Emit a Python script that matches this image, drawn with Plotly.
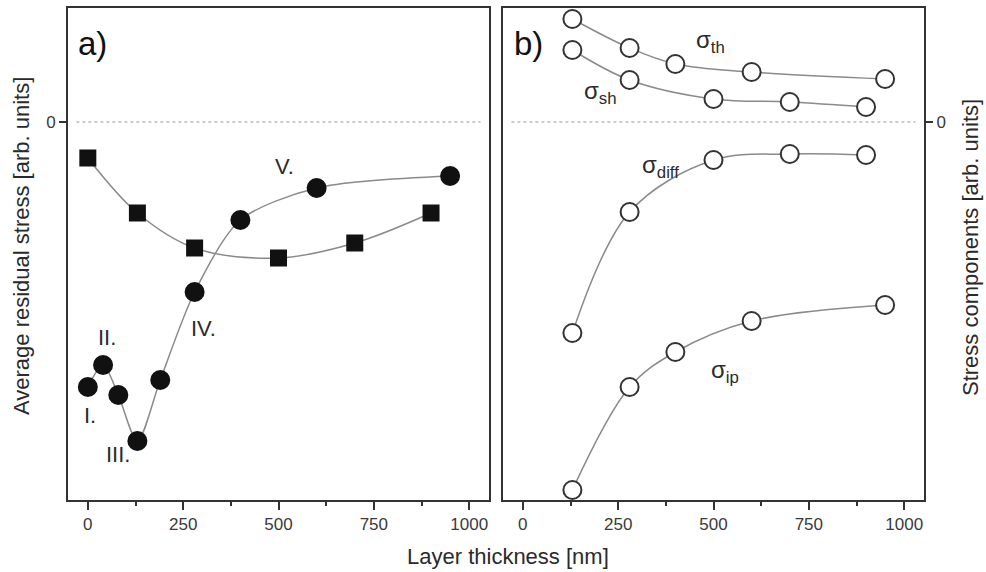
import plotly.graph_objects as go

# ---- data (arbitrary units) ----
sq_x = [0, 130, 280, 500, 700, 900]
sq_y = [-0.36, -0.91, -1.26, -1.36, -1.21, -0.91]

ci_x = [0, 40, 80, 130, 190, 280, 400, 600, 950]
ci_y = [-2.65, -2.43, -2.73, -3.19, -2.58, -1.70, -0.98, -0.66, -0.54]

th_x = [130, 280, 400, 600, 950]
th_y = [1.03, 0.74, 0.58, 0.50, 0.43]

sh_x = [130, 280, 500, 700, 900]
sh_y = [0.72, 0.42, 0.23, 0.20, 0.15]

diff_x = [130, 280, 500, 700, 900]
diff_y = [-2.11, -0.90, -0.38, -0.32, -0.33]

ip_x = [130, 280, 400, 600, 950]
ip_y = [-3.68, -2.65, -2.30, -1.99, -1.83]

x_ticks = [0, 250, 500, 750, 1000]
y_ticks = [0]

FONT = "Liberation Sans, Arial, Helvetica, sans-serif"
DARK = "#333333"
TXT = "#2a2a2a"
LINE = "#8a8a8a"

fig = go.Figure()

def curve(x, y, xa, ya, smooth=1.0):
    fig.add_trace(go.Scatter(x=x, y=y, mode="lines", xaxis=xa, yaxis=ya,
                             line=dict(color=LINE, width=1.5, shape="spline", smoothing=smooth),
                             hoverinfo="skip", showlegend=False))

def pts(x, y, xa, ya, symbol, size, fill, lw):
    fig.add_trace(go.Scatter(x=x, y=y, mode="markers", xaxis=xa, yaxis=ya,
                             marker=dict(symbol=symbol, size=size, color=fill,
                                         line=dict(color=DARK if lw else fill, width=lw)),
                             cliponaxis=False, showlegend=False))

# panel a
curve(sq_x, sq_y, "x", "y")
curve(ci_x, ci_y, "x", "y", 0.8)
pts(sq_x, sq_y, "x", "y", "square", 17, "#111111", 0)
pts(ci_x, ci_y, "x", "y", "circle", 20, "#111111", 0)

# panel b
for xs, ys in [(th_x, th_y), (sh_x, sh_y), (diff_x, diff_y), (ip_x, ip_y)]:
    curve(xs, ys, "x2", "y2")
for xs, ys in [(th_x, th_y), (sh_x, sh_y), (diff_x, diff_y), (ip_x, ip_y)]:
    pts(xs, ys, "x2", "y2", "circle", 18, "white", 2)

xcommon = dict(range=[-52, 1052], tickvals=x_ticks, ticks="outside", ticklen=8, tickwidth=2,
               tickcolor=DARK, showline=True, linewidth=2, linecolor=DARK, mirror=True,
               showgrid=False, zeroline=False,
               tickfont=dict(family=FONT, size=17, color="#3a3a3a"),
               minor=dict(ticks="outside", ticklen=4, tickwidth=2, tickcolor=DARK, dtick=125, tick0=125,
                          showgrid=False))
ycommon = dict(range=[-3.78, 1.14], tickvals=y_ticks, ticktext=["0"], ticks="outside", ticklen=7,
               tickwidth=2, tickcolor=DARK, showline=True, linewidth=2, linecolor=DARK, mirror=True,
               showgrid=False, zeroline=False,
               tickfont=dict(family=FONT, size=17, color="#3a3a3a"))

y0 = 1 - 500 / 572
y1 = 1 - 8 / 572
fig.update_layout(
    width=986, height=572, margin=dict(l=0, r=0, t=0, b=0),
    paper_bgcolor="white", plot_bgcolor="white",
    xaxis=dict(domain=[68 / 986, 489 / 986], anchor="y", **xcommon),
    xaxis2=dict(domain=[503 / 986, 924 / 986], anchor="y2", **xcommon),
    yaxis=dict(domain=[y0, y1], anchor="x", side="left", **ycommon),
    yaxis2=dict(domain=[y0, y1], anchor="x2", side="right", **ycommon),
    font=dict(family=FONT, color=TXT),
)

# zero dotted lines
for xr, yr in [("x domain", "y"), ("x2 domain", "y2")]:
    fig.add_shape(type="line", xref=xr, yref=yr, x0=0.02, x1=0.98, y0=0, y1=0,
                  line=dict(color="#bbbbbb", width=1.5, dash="dot"), layer="below")

def ann(text, x, y, xref, yref, size, angle=0, color=TXT):
    fig.add_annotation(text=text, x=x, y=y, xref=xref, yref=yref, showarrow=False,
                       textangle=angle, font=dict(family=FONT, size=size, color=color),
                       xanchor="center", yanchor="middle")

# panel labels
ann("a)", 92 / 986, 1 - 43 / 572, "paper", "paper", 33, color="#111111")
ann("b)", 528 / 986, 1 - 43 / 572, "paper", "paper", 33, color="#111111")

# roman numerals
ann("I.", 5, -2.93, "x", "y", 22)
ann("II.", 50, -2.15, "x", "y", 22)
ann("III.", 79, -3.32, "x", "y", 22)
ann("IV.", 304, -2.06, "x", "y", 22)
ann("V.", 517, -0.45, "x", "y", 22)

# sigma labels
ann("σ<sub>th</sub>", 491, 0.80, "x2", "y2", 24)
ann("σ<sub>sh</sub>", 203, 0.29, "x2", "y2", 24)
ann("σ<sub>diff</sub>", 360, -0.45, "x2", "y2", 24)
ann("σ<sub>ip</sub>", 530, -2.49, "x2", "y2", 24)

# axis titles
ann("Layer thickness [nm]", 508 / 986, 1 - 556 / 572, "paper", "paper", 22)
ann("Average residual stress [arb. units]", 22 / 986, 1 - 246 / 572, "paper", "paper", 22, angle=-90)
ann("Stress components [arb. units]", 971 / 986, 1 - 248 / 572, "paper", "paper", 22, angle=-90)

fig.write_html("out.html")
